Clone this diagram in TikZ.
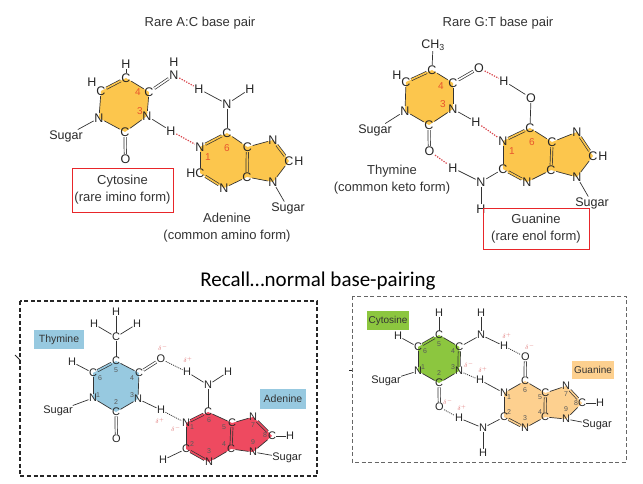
\documentclass[tikz,border=0pt]{standalone}
\usepackage{fontspec}
\setmainfont{Liberation Sans}
\newfontfamily\recallfont{Carlito}
\usetikzlibrary{backgrounds}
\definecolor{ringyellow}{HTML}{FCC64D}
\definecolor{ringblue}{HTML}{97C9E0}
\definecolor{ringred}{HTML}{EE4A60}
\definecolor{ringgreen}{HTML}{8CC63F}
\definecolor{ringorange}{HTML}{FDD08F}
\definecolor{inkgray}{HTML}{333333}
\definecolor{numred}{HTML}{E8552D}
\definecolor{deltared}{HTML}{DE7070}
\definecolor{boxred}{HTML}{E8262A}
\definecolor{dotred}{HTML}{D9484F}
\tikzset{
  atom/.style={inner sep=0.6pt,text=black!85,font=\fontsize{12.5}{12.5}\selectfont},
  small/.style={inner sep=0.3pt,text=black!85,font=\fontsize{11}{11}\selectfont},
  caption/.style={inner sep=0pt,text=inkgray,align=center,font=\fontsize{13}{17}\selectfont},
  num/.style={inner sep=0pt,text=numred,font=\fontsize{10}{10}\selectfont},
  tinynum/.style={inner sep=0pt,text=black!65,font=\fontsize{7}{7}\selectfont},
  delta/.style={inner sep=0pt,text=deltared,font=\fontsize{6.5}{6.5}\selectfont},
  redbox/.style={draw=boxred,line width=0.8pt,inner sep=0pt,text=inkgray,align=center,font=\fontsize{13}{17}\selectfont},
  tag/.style={inner sep=0pt,text=inkgray,font=\fontsize{10.5}{10.5}\selectfont},
  smalltag/.style={inner sep=0pt,text=inkgray,font=\fontsize{10}{10}\selectfont},
  bond/.style={line width=0.7pt,black!80},
  dbl/.style={bond,double=#1,double distance=1.6pt},
  dbl/.default=white,
  hbond/.style={dotred,line width=1.2pt,dash pattern=on 1.3pt off 1.3pt},
  dotbond/.style={black!80,line width=0.8pt,dash pattern=on 1pt off 1pt}
}
\begin{document}
\begin{tikzpicture}[x=1pt,y=-1pt]
  \useasboundingbox (0,0) rectangle (643,484);
  % rare A:C
  \node[caption] (title1) at (200,23) {Rare A:C base pair};
  \draw
    (99,118) node[atom] (rc1){N}
    (125,132) node[atom] (rc2){C}
    (147,116) node[atom] (rc3){N}
    (149,92) node[atom] (rc4){C}
    (126,78) node[atom] (rc5){C}
    (101,91) node[atom] (rc6){C}
    (126,64) node[atom] (rcH5){H}
    (92,82) node[atom] (rcH6){H}
    (125.4,159) node[atom] (rcO){O}
    (174,75) node[atom] (rcN){N}
    (174,62) node[atom] (rcHN){H}
    (171,131) node[atom] (rcH3){H}
    (66,136) node[atom] (rcS){Sugar}
    (227,133) node[atom] (ra6){C}
    (200,147) node[atom] (ra1){N}
    (200,173) node[atom] (ra2){C}
    (191,173) node[atom] (raH2){H}
    (224,188) node[atom] (ra3){N}
    (247,177) node[atom] (ra4){C}
    (247.4,147) node[atom] (ra5){C}
    (273,140) node[atom] (ra7){N}
    (289,161) node[atom] (ra8){C}
    (299,161) node[atom] (raH8){H}
    (273,182) node[atom] (ra9){N}
    (227,104) node[atom] (raN){N}
    (199,89) node[atom] (raHa){H}
    (250,89) node[atom] (raHb){H}
    (288,208) node[atom] (raS){Sugar};
  \begin{pgfonlayer}{background}
    \fill[ringyellow] (rc1.center) -- (rc2.center) -- (rc3.center) -- (rc4.center) -- (rc5.center) -- (rc6.center) -- cycle;
    \fill[ringyellow] (ra1.center) -- (ra6.center) -- (ra5.center) -- (ra7.center) -- (ra8.center) -- (ra9.center) -- (ra4.center) -- (ra3.center) -- (ra2.center) -- cycle;
  \end{pgfonlayer}
  \begin{scope}[bond]
    \draw (rc1) to (rc2);
    \draw (rc2) to (rc3);
    \draw (rc3) to (rc4);
    \draw (rc4) to (rc5);
    \draw[dbl=ringyellow] (rc5) to (rc6);
    \draw (rc6) to (rc1);
    \draw (rc5) to (rcH5);
    \draw[dbl] (rc2) to (rcO);
    \draw[dbl] (rc4) to (rcN);
    \draw (rc3) to (rcH3);
    \draw (rc1) to (rcS);
    \draw (ra6) to (raN);
    \draw (raN) to (raHa);
    \draw (raN) to (raHb);
    \draw[dbl=ringyellow] (ra1) to (ra6);
    \draw (ra1) to (ra2);
    \draw[dbl=ringyellow] (ra2) to (ra3);
    \draw (ra3) to (ra4);
    \draw[dbl=ringyellow] (ra4) to (ra5);
    \draw (ra5) to (ra6);
    \draw (ra5) to (ra7);
    \draw[dbl=ringyellow] (ra7) to (ra8);
    \draw (ra8) to (ra9);
    \draw (ra9) to (ra4);
    \draw (ra9) to (raS);
  \end{scope}
  \draw[hbond] (rcN) to (raHa);
  \draw[hbond] (rcH3) to (ra1);
  \node[num] (rcn4) at (138,92) {4};
  \node[num] (rcn3) at (140,111) {3};
  \node[num] (ran1) at (208,157) {1};
  \node[num] (ran6) at (227,148) {6};
  \node[redbox,minimum width=101pt,minimum height=44pt] (rcName) at (122.5,190) {Cytosine\\(rare imino form)};
  \node[caption] (raName) at (227,228) {Adenine\\(common amino form)};
  % rare G:T
  \node[caption] (title2) at (498,23) {Rare G:T base pair};
  \draw
    (405,111) node[atom] (rt1){N}
    (429,125) node[atom] (rt2){C}
    (453,109) node[atom] (rt3){N}
    (453,83) node[atom] (rt4){C}
    (432,70) node[atom] (rt5){C}
    (406,82) node[atom] (rt6){C}
    (397,75) node[atom] (rtH6){H}
    (433,45) node[atom] (rtM){CH\textsubscript{3}}
    (479,68) node[atom] (rtOa){O}
    (429.4,151) node[atom] (rtOb){O}
    (476,122) node[atom] (rtH3){H}
    (375,130) node[atom] (rtS){Sugar}
    (503,141) node[atom] (rg1){N}
    (503,169) node[atom] (rg2){C}
    (527,182) node[atom] (rg3){N}
    (551,170) node[atom] (rg4){C}
    (552,142) node[atom] (rg5){C}
    (530,128) node[atom] (rg6){C}
    (577,132) node[atom] (rg7){N}
    (593,156) node[atom] (rg8){C}
    (603,156) node[atom] (rgH8){H}
    (577,177) node[atom] (rg9){N}
    (531,98) node[atom] (rgO){O}
    (504,81) node[atom] (rgHO){H}
    (481,182) node[atom] (rgN){N}
    (453,168) node[atom] (rgHa){H}
    (481,209) node[atom] (rgHb){H}
    (592,203) node[atom] (rgS){Sugar};
  \begin{pgfonlayer}{background}
    \fill[ringyellow] (rt1.center) -- (rt2.center) -- (rt3.center) -- (rt4.center) -- (rt5.center) -- (rt6.center) -- cycle;
    \fill[ringyellow] (rg1.center) -- (rg6.center) -- (rg5.center) -- (rg7.center) -- (rg8.center) -- (rg9.center) -- (rg4.center) -- (rg3.center) -- (rg2.center) -- cycle;
  \end{pgfonlayer}
  \begin{scope}[bond]
    \draw (rt1) to (rt2);
    \draw (rt2) to (rt3);
    \draw (rt3) to (rt4);
    \draw (rt4) to (rt5);
    \draw[dbl=ringyellow] (rt5) to (rt6);
    \draw (rt6) to (rt1);
    \draw (rt5) to (rtM);
    \draw[dbl] (rt4) to (rtOa);
    \draw[dbl] (rt2) to (rtOb);
    \draw (rt3) to (rtH3);
    \draw (rt1) to (rtS);
    \draw (rg6) to (rgO);
    \draw (rgO) to (rgHO);
    \draw[dbl=ringyellow] (rg1) to (rg6);
    \draw (rg1) to (rg2);
    \draw[dbl=ringyellow] (rg2) to (rg3);
    \draw (rg3) to (rg4);
    \draw[dbl=ringyellow] (rg4) to (rg5);
    \draw (rg5) to (rg6);
    \draw (rg5) to (rg7);
    \draw[dbl=ringyellow] (rg7) to (rg8);
    \draw (rg8) to (rg9);
    \draw (rg9) to (rg4);
    \draw (rg9) to (rgS);
    \draw (rg2) to (rgN);
    \draw (rgN) to (rgHa);
    \draw (rgN) to (rgHb);
  \end{scope}
  \draw[hbond] (rtOa) to (rgHO);
  \draw[hbond] (rtH3) to (rg1);
  \draw[hbond] (rtOb) to (rgHa);
  \node[num] (rtn4) at (441,86) {4};
  \node[num] (rtn3) at (443,104) {3};
  \node[num] (rgn1) at (512,151) {1};
  \node[num] (rgn6) at (532,142) {6};
  \node[caption] (rtName) at (392,179.5) {Thymine\\(common keto form)};
  \node[redbox,minimum width=106pt,minimum height=41pt] (rgName) at (536,228.5) {Guanine\\(rare enol form)};
  \node[inner sep=0pt,font=\recallfont\fontsize{21}{21}\selectfont] (recall) at (318,281) {Recall\ldots normal base-pairing};
  % normal T:A
  \draw[black!85,dash pattern=on 4pt off 2.5pt,line width=1.1pt] (20,301) rectangle (317,476);
  \coordinate (tickA) at (15,355);
  \coordinate (tickB) at (20,360);
  \draw[black!85,line width=0.8pt] (tickA) to (tickB);
  \node[tag,fill=ringblue,minimum width=50pt,minimum height=19pt] (tName) at (59,339.5) {Thymine};
  \node[tag,fill=ringblue,minimum width=46pt,minimum height=20pt] (aName) at (283,399) {Adenine};
  \draw
    (93,398) node[small] (t1){N}
    (116,412) node[small] (t2){C}
    (138,399) node[small] (t3){N}
    (139,373) node[small] (t4){C}
    (116,361) node[small] (t5){C}
    (93,373) node[small] (t6){C}
    (116,337) node[small] (tM){C}
    (116,312) node[small] (tHa){H}
    (94,324) node[small] (tHb){H}
    (137,324) node[small] (tHc){H}
    (72,362) node[small] (tH6){H}
    (161,359) node[small] (tOa){O}
    (116.4,439) node[small] (tOb){O}
    (161,410) node[small] (tH3){H}
    (58,411) node[small] (tS){Sugar}
    (186,423) node[small] (a1){N}
    (186,449) node[small] (a2){C}
    (209,462) node[small] (a3){N}
    (231,449) node[small] (a4){C}
    (232,423) node[small] (a5){C}
    (208,412) node[small] (a6){C}
    (253,417) node[small] (a7){N}
    (272,436) node[small] (a8){C}
    (290,436) node[small] (aH8){H}
    (253,452) node[small] (a9){N}
    (163,460) node[small] (aH2){H}
    (208,385) node[small] (aN){N}
    (187,372) node[small] (aHa){H}
    (228,372) node[small] (aHb){H}
    (287,458) node[small] (aS){Sugar};
  \begin{pgfonlayer}{background}
    \fill[ringblue] (t1.center) -- (t2.center) -- (t3.center) -- (t4.center) -- (t5.center) -- (t6.center) -- cycle;
    \fill[ringred] (a1.center) -- (a6.center) -- (a5.center) -- (a7.center) -- (a8.center) -- (a9.center) -- (a4.center) -- (a3.center) -- (a2.center) -- cycle;
  \end{pgfonlayer}
  \begin{scope}[bond]
    \draw (t1) to (t2);
    \draw (t2) to (t3);
    \draw (t3) to (t4);
    \draw (t4) to (t5);
    \draw[dbl=ringblue] (t5) to (t6);
    \draw (t6) to (t1);
    \draw (t5) to (tM);
    \draw (tM) to (tHa);
    \draw (tM) to (tHb);
    \draw (tM) to (tHc);
    \draw (t6) to (tH6);
    \draw[dbl] (t4) to (tOa);
    \draw[dbl] (t2) to (tOb);
    \draw (t3) to (tH3);
    \draw (t1) to (tS);
    \draw (a6) to (aN);
    \draw (aN) to (aHa);
    \draw (aN) to (aHb);
    \draw[dbl=ringred] (a1) to (a6);
    \draw (a1) to (a2);
    \draw[dbl=ringred] (a2) to (a3);
    \draw (a3) to (a4);
    \draw[dbl=ringred] (a4) to (a5);
    \draw (a5) to (a6);
    \draw (a5) to (a7);
    \draw[dbl=ringred] (a7) to (a8);
    \draw (a8) to (a9);
    \draw (a9) to (a4);
    \draw (a8) to (aH8);
    \draw (a2) to (aH2);
    \draw (a9) to (aS);
  \end{scope}
  \draw[dotbond] (tOa) to (aHa);
  \draw[dotbond] (tH3) to (a1);
  \node[tinynum] (tn5) at (116,370) {5};
  \node[tinynum] (tn6) at (100,378) {6};
  \node[tinynum] (tn4) at (132,378) {4};
  \node[tinynum] (tn1) at (98,395) {1};
  \node[tinynum] (tn2) at (116,402) {2};
  \node[tinynum] (tn3) at (132,395) {3};
  \node[tinynum] (an1) at (192,427) {1};
  \node[tinynum] (an6) at (209,420) {6};
  \node[tinynum] (an5) at (224,427) {5};
  \node[tinynum] (an7) at (253,425) {7};
  \node[tinynum] (an8) at (265,435) {8};
  \node[tinynum] (an9) at (253,442) {9};
  \node[tinynum] (an4) at (224,444) {4};
  \node[tinynum] (an3) at (209,451) {3};
  \node[tinynum] (an2) at (192,444) {2};
  \node[delta] (da) at (163,348) {$\delta^-$};
  \node[delta] (db) at (188,360) {$\delta^+$};
  \node[delta] (dc) at (160,421) {$\delta^+$};
  \node[delta] (dd) at (176,429) {$\delta^-$};
  % normal C:G
  \draw[black!60,dash pattern=on 4pt off 2.5pt,line width=0.8pt] (352,296) rectangle (626,462);
  \coordinate (tickC) at (349,370);
  \coordinate (tickD) at (352,370);
  \draw[black!85,line width=0.8pt] (tickC) to (tickD);
  \node[smalltag,fill=ringgreen,minimum width=42pt,minimum height=19pt] (cName) at (388,320.5) {Cytosine};
  \node[smalltag,fill=ringorange,minimum width=42pt,minimum height=18pt] (gName) at (593,370) {Guanine};
  \draw
    (418,371) node[small] (c1){N}
    (439,383) node[small] (c2){C}
    (459,371) node[small] (c3){N}
    (459.4,347) node[small] (c4){C}
    (439,335) node[small] (c5){C}
    (418,347) node[small] (c6){C}
    (439,313) node[small] (cH5){H}
    (398,336) node[small] (cH6){H}
    (439.4,407) node[small] (cO){O}
    (481,335) node[small] (cN){N}
    (481,313) node[small] (cHa){H}
    (504,346) node[small] (cHb){H}
    (386,381) node[small] (cS){Sugar}
    (504,393) node[small] (g1){N}
    (504,417) node[small] (g2){C}
    (525,428) node[small] (g3){N}
    (545,417) node[small] (g4){C}
    (545.4,393) node[small] (g5){C}
    (525,381) node[small] (g6){C}
    (566,386) node[small] (g7){N}
    (582,403) node[small] (g8){C}
    (600,403) node[small] (gH8){H}
    (566,419) node[small] (g9){N}
    (525.4,357) node[small] (gO){O}
    (480,380) node[small] (gH1){H}
    (483,428) node[small] (gN){N}
    (459,418) node[small] (gHa){H}
    (483,453) node[small] (gHb){H}
    (597,425) node[small] (gS){Sugar};
  \begin{pgfonlayer}{background}
    \fill[ringgreen] (c1.center) -- (c2.center) -- (c3.center) -- (c4.center) -- (c5.center) -- (c6.center) -- cycle;
    \fill[ringorange] (g1.center) -- (g6.center) -- (g5.center) -- (g7.center) -- (g8.center) -- (g9.center) -- (g4.center) -- (g3.center) -- (g2.center) -- cycle;
  \end{pgfonlayer}
  \begin{scope}[bond]
    \draw (c1) to (c2);
    \draw (c2) to (c3);
    \draw[dbl=ringgreen] (c3) to (c4);
    \draw (c4) to (c5);
    \draw[dbl=ringgreen] (c5) to (c6);
    \draw (c6) to (c1);
    \draw (c5) to (cH5);
    \draw (c6) to (cH6);
    \draw[dbl] (c2) to (cO);
    \draw (c4) to (cN);
    \draw (cN) to (cHa);
    \draw (cN) to (cHb);
    \draw (c1) to (cS);
    \draw[dbl] (g6) to (gO);
    \draw (g1) to (g6);
    \draw (g1) to (g2);
    \draw (g1) to (gH1);
    \draw[dbl=ringorange] (g2) to (g3);
    \draw (g3) to (g4);
    \draw[dbl=ringorange] (g4) to (g5);
    \draw (g5) to (g6);
    \draw (g5) to (g7);
    \draw[dbl=ringorange] (g7) to (g8);
    \draw (g8) to (g9);
    \draw (g9) to (g4);
    \draw (g8) to (gH8);
    \draw (g9) to (gS);
    \draw (g2) to (gN);
    \draw (gN) to (gHa);
    \draw (gN) to (gHb);
  \end{scope}
  \draw[dotbond] (cHb) to (gO);
  \draw[dotbond] (c3) to (gH1);
  \draw[dotbond] (cO) to (gHa);
  \node[tinynum] (cn5) at (439,344) {5};
  \node[tinynum] (cn6) at (425,351) {6};
  \node[tinynum] (cn4) at (453,351) {4};
  \node[tinynum] (cn1) at (423,367) {1};
  \node[tinynum] (cn2) at (439,373) {2};
  \node[tinynum] (cn3) at (453,367) {3};
  \node[tinynum] (gn1) at (509,397) {1};
  \node[tinynum] (gn6) at (525,390) {6};
  \node[tinynum] (gn5) at (540,397) {5};
  \node[tinynum] (gn7) at (566,394) {7};
  \node[tinynum] (gn8) at (576,403) {8};
  \node[tinynum] (gn9) at (566,409) {9};
  \node[tinynum] (gn4) at (540,412) {4};
  \node[tinynum] (gn3) at (525,418) {3};
  \node[tinynum] (gn2) at (509,412) {2};
  \node[delta] (de) at (507,336) {$\delta^+$};
  \node[delta] (df) at (530,347) {$\delta^-$};
  \node[delta] (dg) at (469,365) {$\delta^-$};
  \node[delta] (dh) at (483,370) {$\delta^+$};
  \node[delta] (di) at (448,402) {$\delta^-$};
  \node[delta] (dj) at (462,408) {$\delta^+$};
\end{tikzpicture}
\end{document}
